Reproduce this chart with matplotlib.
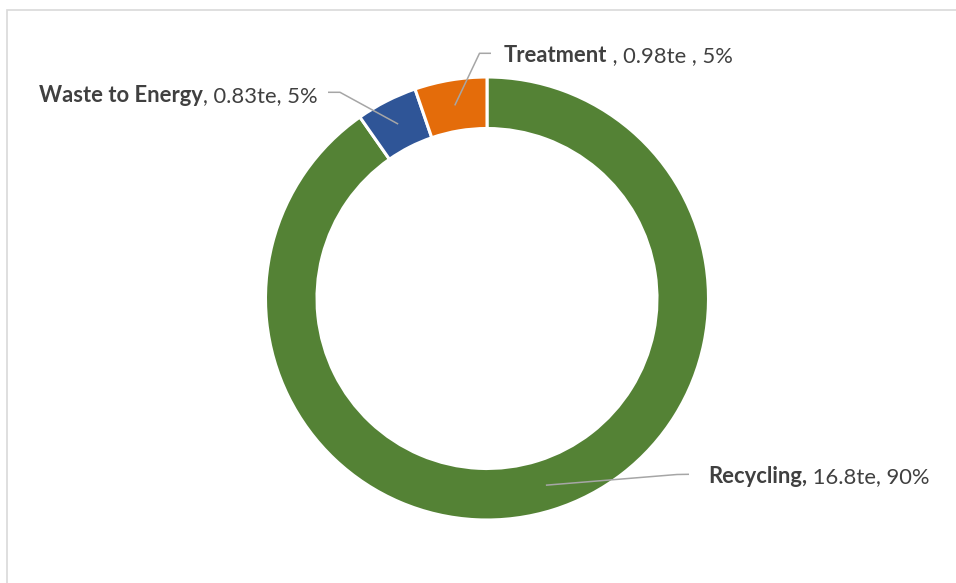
import numpy as np
import matplotlib.pyplot as plt
from matplotlib.patches import Rectangle

# -------------------- data --------------------
categories = ['Recycling', 'Waste to Energy', 'Treatment']
tonnes = [16.8, 0.83, 0.98]
tonne_labels = ['16.8te', '0.83te', '0.98te']
pct_labels = ['90%', '5%', '5%']
colors = ['#548235', '#2F5597', '#E46C0A']

# label text pieces (bold name part, regular rest) - as in the original
bold_parts = ['Recycling,', 'Waste to Energy', 'Treatment']
rest_parts = [' %s, %s' % (tonne_labels[0], pct_labels[0]),
              ', %s, %s' % (tonne_labels[1], pct_labels[1]),
              ' , %s , %s' % (tonne_labels[2], pct_labels[2])]

# -------------------- layout (pixel coords) --------------------
W, H = 956, 583
cx, cy = 487, H - 298.5
r_out, r_in = 221.5, 170
# text anchor (left, baseline) and leader elbow points
label_pos = [(708, H - 483), (39, H - 102), (504, H - 62)]
leader_pts = [[(689, H - 474.3), (677, H - 474.5)],
              [(328, H - 92.3), (340, H - 92.3)],
              [(491, H - 53.3), (479.5, H - 53.3)]]

plt.rcParams['font.family'] = ['Lato', 'DejaVu Sans']
fig = plt.figure(figsize=(W / 100, H / 100), dpi=100)
ax = fig.add_axes([0, 0, 1, 1])

# outer chart border
ax.add_patch(Rectangle((7, -10), W + 20, H - 10 + 10, fill=False,
                       edgecolor='#D9D9D9', lw=1.2))

wedges, _ = ax.pie(tonnes, colors=colors, startangle=90, counterclock=False,
                   center=(cx, cy), radius=r_out,
                   wedgeprops=dict(width=r_out - r_in, edgecolor='white', linewidth=2.2),
                   frame=True)
ax.set_xlim(0, W)
ax.set_ylim(0, H)
ax.set_aspect('equal')
ax.axis('off')

fs = 15.8
r_mid = (r_out + r_in) / 2
for i, w in enumerate(wedges):
    ang = np.deg2rad((w.theta1 + w.theta2) / 2)
    ax_pt = (cx + r_mid * np.cos(ang), cy + r_mid * np.sin(ang))
    pts = leader_pts[i] + [ax_pt]
    xs, ys = zip(*pts)
    ax.plot(xs, ys, color='#A6A6A6', lw=1.1, solid_capstyle='butt')

    t1 = ax.text(label_pos[i][0], label_pos[i][1], bold_parts[i], fontsize=fs,
                 fontweight='bold', color='#404040', ha='left', va='baseline')
    ax.annotate(rest_parts[i], xy=(1, 0), xycoords=t1, fontsize=fs,
                color='#404040', ha='left', va='bottom')

fig.savefig('out.png', dpi=100)
